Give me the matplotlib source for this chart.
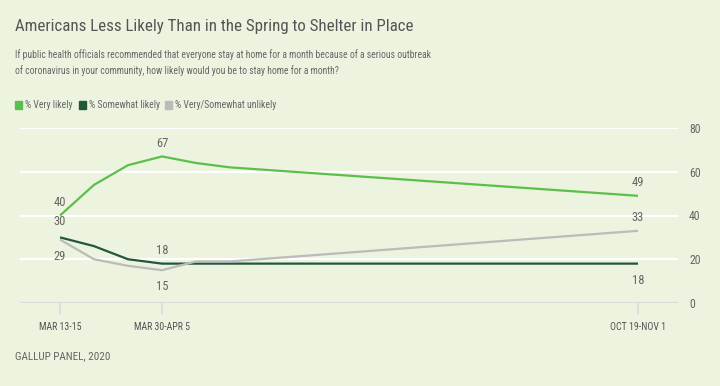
import matplotlib.pyplot as plt

# Gallup panel: likelihood of staying home for a month
WAVES = [0, 1, 2, 3, 4, 5, 17]
VERY_LIKELY = [40, 54, 63, 67, 64, 62, 49]
SOMEWHAT_LIKELY = [30, 26, 20, 18, 18, 18, 18]
UNLIKELY = [29, 20, 17, 15, 19, 19, 33]
TICK_POS = [0, 3, 17]
TICK_LABELS = ["MAR 13-15", "MAR 30-APR 5", "OCT 19-NOV 1"]
Y_TICKS = [0, 20, 40, 60, 80]
NAMES = ["% Very likely", "% Somewhat likely", "% Very/Somewhat unlikely"]

BG = "#ecf3de"
GREEN, DARK, GRAY = "#5cbf4b", "#21583a", "#bbbbbb"
TXT = "#666666"
plt.rcParams['font.family'] = ['Roboto Condensed', 'Liberation Sans Narrow', 'Roboto', 'DejaVu Sans']

fig = plt.figure(figsize=(7.2, 3.86), dpi=100, facecolor=BG)
ax = fig.add_axes([20/720, 83/386, 658/720, 175/386], facecolor=BG)

for y in Y_TICKS[1:]:
    ax.axhline(y, color="white", lw=1.6, zorder=1)
ax.axhline(0, color="#dcdcdc", lw=1.6, zorder=1)

series = [(VERY_LIKELY, GREEN), (SOMEWHAT_LIKELY, DARK), (UNLIKELY, GRAY)]
for vals, col in series:
    ax.plot(WAVES, vals, color=col, lw=1.6, zorder=3, solid_capstyle='butt')

# point labels: (series, index, offset in pixels)
labels = [(VERY_LIKELY, 0, 13), (SOMEWHAT_LIKELY, 0, 16), (UNLIKELY, 0, -17),
          (VERY_LIKELY, 3, 13), (SOMEWHAT_LIKELY, 3, 13), (UNLIKELY, 3, -16),
          (VERY_LIKELY, 6, 13), (UNLIKELY, 6, 13), (SOMEWHAT_LIKELY, 6, -17)]
for vals, i, off in labels:
    ax.annotate(str(vals[i]), (WAVES[i], vals[i]), xytext=(0, off),
                textcoords='offset pixels', ha='center', va='center',
                fontsize=9, color=TXT)

ax.set_xlim(-40/34, 17 + 40/34)
ax.set_ylim(0, 80)
for s in ax.spines.values():
    s.set_visible(False)
ax.set_xticks(TICK_POS)
ax.set_xticklabels(TICK_LABELS, fontsize=7.1, color="#555555")
ax.tick_params(axis='x', length=8, width=1.2, color="#dcdcdc", pad=6)
ax.yaxis.tick_right()
ax.set_yticks(Y_TICKS)
ax.set_yticklabels([str(v) for v in Y_TICKS], fontsize=8.5, color=TXT)
ax.tick_params(axis='y', length=0, pad=8)
for lab in ax.get_yticklabels():
    lab.set_horizontalalignment('left')

fig.text(15/720, 1 - 27/386, "Americans Less Likely Than in the Spring to Shelter in Place",
         fontsize=12.2, color="#555555", va='center')
fig.text(15/720, 1 - 55/386,
         "If public health officials recommended that everyone stay at home for a month because of a serious outbreak",
         fontsize=6.9, color=TXT, va='center')
fig.text(15/720, 1 - 71/386,
         "of coronavirus in your community, how likely would you be to stay home for a month?",
         fontsize=6.9, color=TXT, va='center')

leg_x = [15, 79, 165]
for x, name, col in zip(leg_x, NAMES, [GREEN, DARK, GRAY]):
    fig.patches.append(plt.Rectangle((x/720, 1 - 109/386), 7/720, 8/386,
                                     transform=fig.transFigure, color=col, figure=fig))
    fig.text((x + 10)/720, 1 - 105/386, name, fontsize=7.0, color=TXT, va='center')

fig.text(15/720, 1 - 356/386, "GALLUP PANEL, 2020", fontsize=8, color=TXT, va='center')

fig.savefig("out.png", dpi=100, facecolor=BG)
